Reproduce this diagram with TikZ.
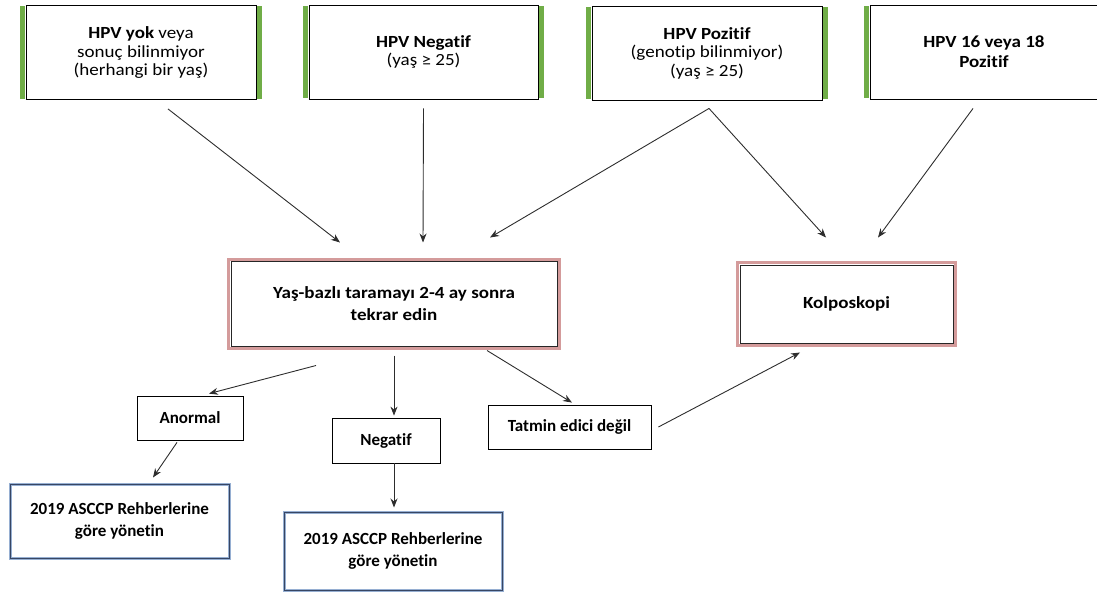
\documentclass[tikz,border=0pt]{standalone}
\usepackage{fontspec}
\setmainfont{Carlito}[Ligatures=NoCommon]
\newfontfamily\widefont{Carlito}[Ligatures=NoCommon, FakeStretch=1.12]
\usepackage{tikz}
\usetikzlibrary{arrows.meta}
\usepackage{xcolor}

\definecolor{barGreen}{RGB}{112,173,71}
\definecolor{roseEdge}{RGB}{212,155,155}
\definecolor{slateEdge}{RGB}{55,70,100}
\definecolor{paleBlue}{RGB}{150,175,210}
\definecolor{arrowGray}{RGB}{45,45,45}

% green side bars of the top boxes
\newcommand{\greenbars}[1]{%
  \fill[barGreen] ([xshift=-5.5pt,yshift=-1pt]#1.north west) rectangle ([xshift=-0.4pt,yshift=1pt]#1.south west);
  \fill[barGreen] ([xshift=0.4pt,yshift=-1pt]#1.north east) rectangle ([xshift=5.5pt,yshift=1pt]#1.south east);
}
% rose frame just outside a box
\newcommand{\roseframe}[1]{%
  \draw[roseEdge, line width=3pt] ([xshift=-1.6pt,yshift=1.6pt]#1.north west) rectangle ([xshift=1.6pt,yshift=-1.6pt]#1.south east);
}

\begin{document}
\begin{tikzpicture}[
    x=1pt, y=-1pt,
    every node/.style={font=\widefont\fontsize{17}{18.5}\selectfont, align=center, inner sep=2pt},
    topbox/.style={draw=black, line width=0.9pt, minimum width=230pt, minimum height=94pt},
    midbox/.style={draw=black!85, line width=1pt, font=\widefont\fontsize{17}{22}\selectfont\bfseries},
    smallbox/.style={draw=black, line width=0.8pt, font=\normalfont\fontsize{17}{18.5}\selectfont\bfseries},
    asccpbox/.style={draw=slateEdge, line width=1pt, preaction={draw=paleBlue, line width=3pt},
                     minimum width=219pt, font=\normalfont\fontsize{17}{22}\selectfont\bfseries},
    arr/.style={draw=arrowGray, line width=0.9pt, -{Stealth[length=9pt,width=7pt]}}
]
\useasboundingbox (0,0) rectangle (1097,592);

% =============================
% 0. HPV result boxes (top row)
% =============================
\node[topbox] (hpvyok) at (141,52.5) {\textbf{HPV yok} veya\\sonuç bilinmiyor\\(herhangi bir yaş)};
\node[topbox, minimum width=229pt] (hpvneg) at (423.5,52) {\textbf{HPV Negatif}\\(yaş ≥ 25)};
\node[topbox] (hpvpoz) at (707,53) {\textbf{HPV Pozitif}\\(genotip bilinmiyor)\\(yaş ≥ 25)};
\node[topbox, minimum width=228pt, font=\widefont\fontsize{17}{20}\selectfont\bfseries] (hpv1618) at (984,52) {HPV 16 veya 18\\Pozitif};

\greenbars{hpvyok}
\greenbars{hpvneg}
\greenbars{hpvpoz}
\greenbars{hpv1618}

% =============================
% 1. Next step boxes
% =============================
\node[midbox, minimum width=326pt, minimum height=85pt] (tekrar) at (394,304) {Yaş-bazlı taramayı 2-4 ay sonra\\tekrar edin};
\node[midbox, minimum width=213pt, minimum height=78pt] (kolpo) at (846.5,304) {Kolposkopi};

\roseframe{tekrar}
\roseframe{kolpo}

% =============================
% 2. Screening outcomes
% =============================
\node[smallbox, minimum width=106pt, minimum height=44pt] (anormal) at (190,418) {Anormal};
\node[smallbox, minimum width=108pt, minimum height=45pt] (negatif) at (386,440.5) {Negatif};
\node[smallbox, minimum width=163pt, minimum height=44pt] (tatmin) at (569.5,427) {Tatmin edici değil};

\node[asccpbox, minimum height=74pt] (asccpa) at (119.5,521) {2019 ASCCP Rehberlerine\\göre yönetin};
\node[asccpbox, minimum width=218pt, minimum height=78pt] (asccpb) at (393,551) {2019 ASCCP Rehberlerine\\göre yönetin};

% =============================
% 3. Arrows
% =============================
\draw[arr] ([xshift=27pt,yshift=-9pt]hpvyok.south) -- ([xshift=-54pt,yshift=18.5pt]tekrar.north);
\draw[arr] ([yshift=-9pt]hpvneg.south) -- ([xshift=29pt,yshift=18.5pt]tekrar.north);
\draw[arr] ([xshift=2pt,yshift=-8pt]hpvpoz.south) -- ([xshift=96pt,yshift=23.5pt]tekrar.north);
\draw[arr] ([xshift=2pt,yshift=-8pt]hpvpoz.south) -- ([xshift=-20.5pt,yshift=27pt]kolpo.north);
\draw[arr] ([xshift=-11pt,yshift=-9pt]hpv1618.south) -- ([xshift=31.5pt,yshift=27pt]kolpo.north);

\draw[arr] ([xshift=-78pt,yshift=-18.5pt]tekrar.south) -- ([xshift=19pt,yshift=2pt]anormal.north);
\draw[arr] ([yshift=-8.5pt]tekrar.south) -- ([xshift=8pt,yshift=2pt]negatif.north);
\draw[arr] ([xshift=93pt,yshift=-3.5pt]tekrar.south) -- ([xshift=2.5pt,yshift=2pt]tatmin.north);
\draw[arr] ([xshift=7pt]tatmin.east) -- ([xshift=-46.5pt,yshift=-9pt]kolpo.south);

\draw[arr] ([xshift=-13pt,yshift=-2pt]anormal.south) -- ([xshift=33.5pt,yshift=6pt]asccpa.north);
\draw[arr] ([xshift=8pt]negatif.south) -- ([xshift=1pt,yshift=4pt]asccpb.north);
\end{tikzpicture}
\end{document}
